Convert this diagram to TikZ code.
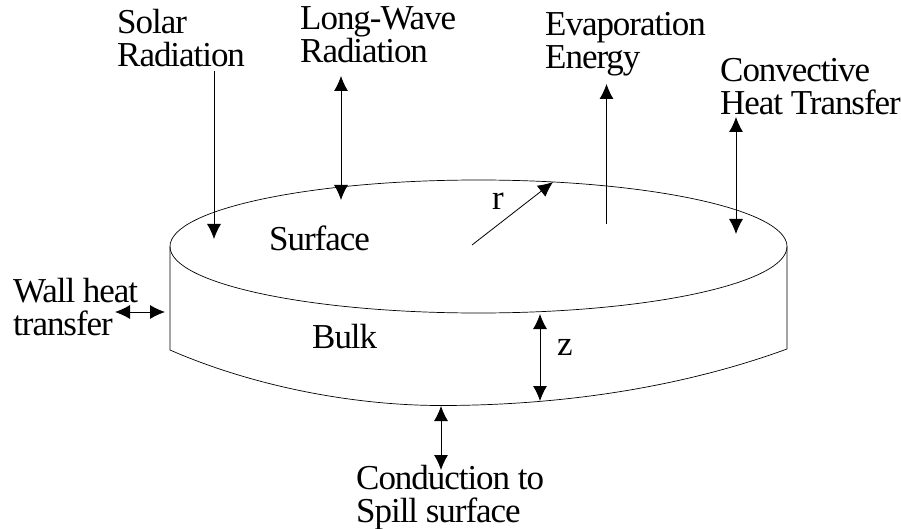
\documentclass[tikz,border=0pt]{standalone}
\usepackage{fontspec}
\setmainfont{Liberation Serif}
\usepackage{tikz}
\usetikzlibrary{arrows.meta, positioning}

\begin{document}
\begin{tikzpicture}[
    x=1pt, y=-1pt,
    label/.style={align=left, inner sep=0pt, anchor=north west, font=\fontsize{35}{33}\selectfont\addfontfeatures{LetterSpace=-3}},
    arrow/.style={line width=0.8pt, -{Latex[length=15pt, width=14pt]}},
    biarrow/.style={line width=0.8pt, {Latex[length=15pt, width=14pt]}-{Latex[length=15pt, width=14pt]}}
]
\useasboundingbox (0,0) rectangle (901,529);

% Disc
\draw[line width=0.7pt] (478.5,246.5) ellipse [x radius=308.5, y radius=66.5];
\draw[line width=0.7pt] (170,246.5) -- (170,350) .. controls (250,385) and (350,405.5) .. (441,405.5)
    .. controls (560,405.5) and (680,388) .. (787,349) -- (787,246.5);

% Nodes
\node (solar) [label] at (117,9) {Solar\\Radiation};
\node (longwave) [label] at (300,6) {Long-Wave\\Radiation};
\node (evap) [label] at (545,12) {Evaporation\\Energy};
\node (conv) [label] at (720,58) {Convective\\Heat Transfer};
\node (wall) [label] at (13,278) {Wall heat\\transfer};
\node (cond) [label] at (356,465.5) {Conduction to\\Spill surface};
\node (surface) [label] at (269,226) {Surface};
\node (bulk) [label] at (312,324) {Bulk};
\node (rlabel) [label] at (492,193) {r};
\node (zlabel) [label] at (557,339) {z};

% Free ends
\coordinate (solartop) at (214,71);
\coordinate (solarend) at (214,239);
\coordinate (longtop) at (341,76);
\coordinate (longend) at (341,200);
\coordinate (rstart) at (472,245);
\coordinate (rend) at (553,182);
\coordinate (evapstart) at (606.5,224);
\coordinate (evapend) at (606.5,84);
\coordinate (convtop) at (736,117);
\coordinate (convend) at (736,234);
\coordinate (wallstart) at (115,312);
\coordinate (wallend) at (165,312);
\coordinate (ztop) at (540,314);
\coordinate (zbot) at (540,401);
\coordinate (condtop) at (441,406);
\coordinate (condend) at (441,470);

% Connections
\draw [arrow] (solartop) -- (solarend);
\draw [biarrow] (longtop) -- (longend);
\draw [arrow] (rstart) -- (rend);
\draw [arrow] (evapstart) -- (evapend);
\draw [biarrow] (convtop) -- (convend);
\draw [biarrow] (wallstart) -- (wallend);
\draw [biarrow] (ztop) -- (zbot);
\draw [biarrow] (condtop) -- (condend);

\end{tikzpicture}
\end{document}
